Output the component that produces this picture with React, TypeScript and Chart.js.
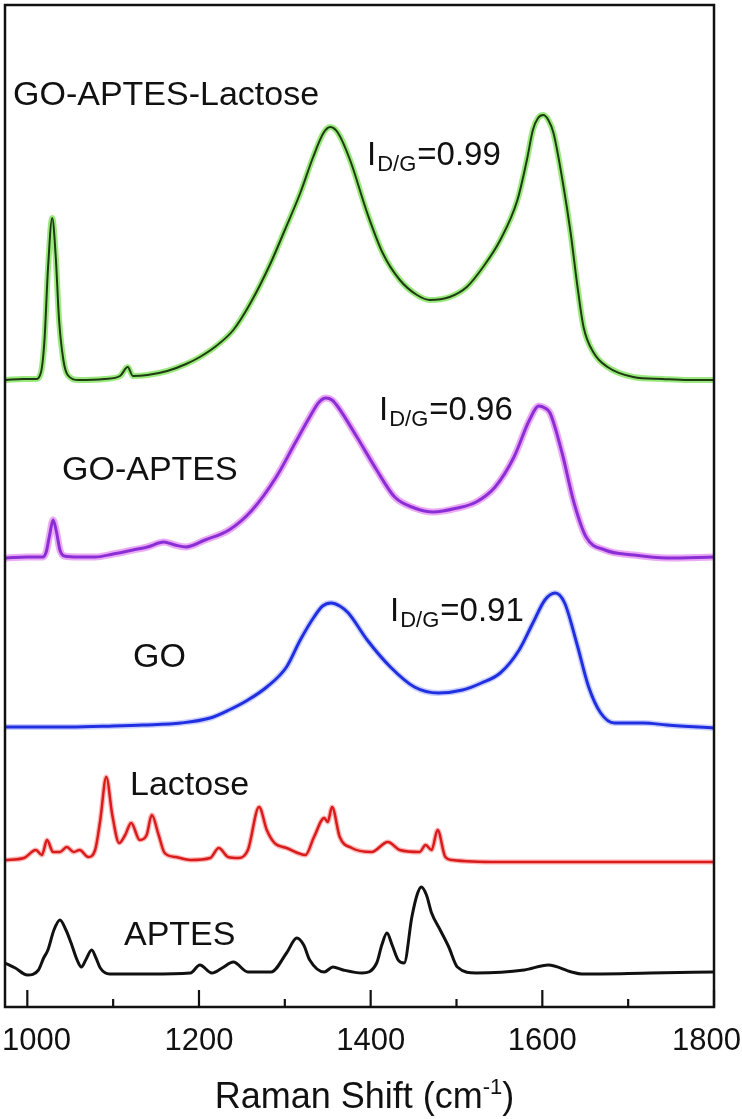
import React, { useEffect, useRef } from "react";
import { Chart, registerables } from "chart.js";

Chart.register(...registerables);

// ---- axis ----
const X_MIN = 974;
const X_MAX = 1800;
const Y_MIN = 0;
const Y_MAX = 1002;
const majorTicks = [1000, 1200, 1400, 1600, 1800];
const minorTicks = [1100, 1300, 1500, 1700];
const axisTitle = "Raman Shift (cm";
const axisTitleSup = "-1";

// ---- labels ----
const seriesNames = ["GO-APTES-Lactose", "GO-APTES", "GO", "Lactose", "APTES"];
const idgValues = ["0.99", "0.96", "0.91"];

// ---- GO-APTES-Lactose (green) ----
const goalX = [975, 995, 1010, 1016, 1020, 1024, 1029, 1033, 1037, 1042, 1047, 1060, 1090, 1108, 1117, 1123, 1140, 1163, 1185, 1201, 1220, 1240, 1260, 1283, 1300, 1318, 1333, 1345, 1353, 1362, 1376, 1396, 1414, 1434, 1454, 1469, 1492, 1512, 1531, 1551, 1571, 1582, 1589, 1595, 1601, 1607, 1613, 1624, 1633, 1641, 1648, 1660, 1676, 1706, 1740, 1770, 1800];
const goalY = [627, 628, 628, 635, 667, 737, 789, 752, 687, 647, 632, 627, 628, 631, 640, 631, 632, 636, 643, 650, 661, 677, 704, 743, 777, 814, 850, 874, 880, 874, 847, 794, 754, 727, 712, 707, 710, 720, 740, 767, 807, 847, 877, 889, 892, 887, 874, 824, 774, 720, 680, 654, 640, 630, 628, 627, 627];

// ---- GO-APTES (purple) ----
const goaX = [975, 1000, 1018, 1022, 1026, 1030, 1034, 1038, 1043, 1060, 1079, 1100, 1123, 1140, 1159, 1172, 1185, 1207, 1235, 1262, 1290, 1312, 1329, 1340, 1348, 1355, 1362, 1384, 1407, 1428, 1451, 1473, 1501, 1523, 1545, 1567, 1585, 1596, 1603, 1609, 1623, 1637, 1651, 1673, 1706, 1745, 1800];
const goaY = [449, 450, 450, 455, 472, 487, 475, 457, 451, 450, 450, 453, 457, 460, 465, 462, 460, 467, 477, 497, 530, 564, 590, 605, 609, 607, 600, 570, 537, 510, 499, 495, 499, 505, 520, 550, 587, 601, 599, 594, 554, 504, 470, 457, 452, 449, 450];

// ---- GO (blue) ----
const goX = [975, 1050, 1100, 1135, 1179, 1213, 1235, 1257, 1279, 1302, 1318, 1334, 1344, 1354, 1364, 1374, 1396, 1423, 1451, 1479, 1507, 1529, 1551, 1573, 1589, 1603, 1615, 1626, 1640, 1654, 1668, 1684, 1718, 1745, 1800];
const goY = [280, 280, 281, 282, 284, 289, 297, 307, 320, 340, 367, 390, 401, 404, 401, 394, 367, 340, 320, 314, 317, 324, 334, 357, 384, 407, 414, 404, 364, 320, 294, 284, 284, 282, 279];

// ---- Lactose (red) ----
const lacX = [974, 996, 1010, 1017, 1023, 1030, 1038, 1046, 1054, 1061, 1071, 1079, 1085, 1092, 1099, 1107, 1114, 1121, 1131, 1139, 1145, 1153, 1160, 1173, 1190, 1213, 1223, 1234, 1246, 1257, 1270, 1279, 1288, 1302, 1324, 1334, 1346, 1350, 1355, 1364, 1378, 1401, 1420, 1434, 1457, 1464, 1471, 1478, 1487, 1495, 1550, 1600, 1650, 1700, 1750, 1800];
const lacY = [147, 149, 157, 152, 167, 155, 155, 160, 155, 157, 150, 157, 187, 230, 192, 164, 172, 184, 167, 172, 192, 172, 154, 150, 147, 149, 159, 150, 149, 157, 200, 177, 164, 159, 152, 170, 189, 185, 200, 170, 159, 155, 165, 157, 155, 162, 157, 177, 150, 147, 145, 145, 145, 145, 145, 145];

// ---- APTES (black) ----
const apX = [974, 986, 1000, 1013, 1019, 1024, 1031, 1038, 1045, 1051, 1058, 1063, 1068, 1075, 1080, 1085, 1096, 1143, 1190, 1201, 1215, 1227, 1240, 1257, 1284, 1302, 1314, 1322, 1329, 1346, 1356, 1368, 1390, 1407, 1413, 1419, 1425, 1432, 1439, 1448, 1454, 1459, 1465, 1471, 1481, 1491, 1501, 1523, 1579, 1607, 1634, 1646, 1726, 1800];
const apY = [44, 39, 32, 37, 49, 57, 77, 87, 77, 64, 47, 40, 47, 57, 49, 39, 33, 33, 34, 42, 34, 39, 45, 35, 35, 54, 69, 62, 47, 35, 40, 37, 34, 44, 62, 74, 62, 47, 44, 90, 112, 120, 112, 94, 77, 60, 40, 34, 37, 42, 35, 33, 34, 35];

const FONT = '"Liberation Sans", Arial, Helvetica, sans-serif';
const f = (size: number) => `${size}px ${FONT}`;

function pts(xs: number[], ys: number[]) {
  return xs.map((x, i) => ({ x, y: ys[i] }));
}

function drawIdg(ctx: CanvasRenderingContext2D, x: number, y: number, value: string) {
  ctx.font = f(33);
  ctx.fillText("I", x, y);
  const w1 = ctx.measureText("I").width;
  ctx.font = f(22);
  ctx.fillText("D/G", x + w1 + 1, y + 6);
  const w2 = ctx.measureText("D/G").width;
  ctx.font = f(33);
  ctx.fillText("=" + value, x + w1 + 1 + w2 + 1, y);
}

const decorPlugin = {
  id: "decor",
  afterDatasetsDraw(chart: any) {
    const { ctx, chartArea: a, scales } = chart;
    const xs = scales.x;
    ctx.save();
    ctx.strokeStyle = "#111";
    ctx.fillStyle = "#111";
    ctx.lineWidth = 2.5;
    ctx.strokeRect(a.left, a.top, a.right - a.left, a.bottom - a.top);

    ctx.lineWidth = 2.2;
    ctx.beginPath();
    for (const v of majorTicks) {
      const px = xs.getPixelForValue(v);
      ctx.moveTo(px, a.bottom);
      ctx.lineTo(px, a.bottom - 17);
    }
    for (const v of minorTicks) {
      const px = xs.getPixelForValue(v);
      ctx.moveTo(px, a.bottom);
      ctx.lineTo(px, a.bottom - 8);
    }
    ctx.stroke();

    ctx.textBaseline = "alphabetic";
    ctx.font = f(31);
    for (const v of majorTicks) {
      const px = xs.getPixelForValue(v);
      const t = String(v);
      const w = ctx.measureText(t).width;
      let lx = px - w / 2;
      lx = Math.max(2, Math.min(lx, chart.width - 1 - w));
      ctx.fillText(t, lx, a.bottom + 43);
    }

    // axis title with superscript
    ctx.font = f(36);
    const tw1 = ctx.measureText(axisTitle).width;
    ctx.font = f(22);
    const tw2 = ctx.measureText(axisTitleSup).width;
    ctx.font = f(36);
    const tw3 = ctx.measureText(")").width;
    const total = tw1 + tw2 + tw3;
    let tx = (a.left + a.right) / 2 + 5 - total / 2;
    const ty = a.bottom + 101;
    ctx.fillText(axisTitle, tx, ty);
    tx += tw1;
    ctx.font = f(22);
    ctx.fillText(axisTitleSup, tx, ty - 14);
    tx += tw2;
    ctx.font = f(36);
    ctx.fillText(")", tx, ty);

    // series labels
    ctx.font = f(34);
    ctx.fillText(seriesNames[0], 13, 105);
    ctx.fillText(seriesNames[1], 62, 480);
    ctx.fillText(seriesNames[2], 133, 667);
    ctx.fillText(seriesNames[3], 130, 795);
    ctx.fillText(seriesNames[4], 124, 945);

    drawIdg(ctx, 367, 165, idgValues[0]);
    drawIdg(ctx, 379, 420, idgValues[1]);
    drawIdg(ctx, 390, 621, idgValues[2]);
    ctx.restore();
  },
};

function line(data: { x: number; y: number }[], color: string, width: number, order: number) {
  return {
    data,
    borderColor: color,
    borderWidth: width,
    pointRadius: 0,
    fill: false,
    cubicInterpolationMode: "monotone" as const,
    order,
  };
}

export default function App() {
  const ref = useRef<HTMLCanvasElement | null>(null);

  useEffect(() => {
    if (!ref.current) return;
    const green = pts(goalX, goalY);
    const purple = pts(goaX, goaY);
    const blue = pts(goX, goY);
    const red = pts(lacX, lacY);
    const black = pts(apX, apY);
    const chart = new Chart(ref.current, {
      type: "line",
      data: {
        datasets: [
          line(green, "rgba(120,225,80,0.75)", 6, 2),
          line(green, "#1e3a12", 2, 1),
          line(purple, "rgba(230,140,240,0.75)", 7, 2),
          line(purple, "#8a2ed6", 3, 1),
          line(blue, "rgba(150,160,255,0.5)", 6, 2),
          line(blue, "#2030e0", 3, 1),
          line(red, "rgba(255,130,130,0.6)", 5, 2),
          line(red, "#d81c1c", 2.5, 1),
          line(black, "#111111", 3, 1),
        ] as any,
      },
      options: {
        animation: false,
        responsive: false,
        maintainAspectRatio: false,
        devicePixelRatio: 1,
        layout: { padding: { left: 5, top: 5, right: 28, bottom: 112 } },
        plugins: { legend: { display: false }, tooltip: { enabled: false } },
        scales: {
          x: { type: "linear", min: X_MIN, max: X_MAX, display: false },
          y: { type: "linear", min: Y_MIN, max: Y_MAX, display: false },
        },
      },
      plugins: [decorPlugin],
    });
    return () => chart.destroy();
  }, []);

  return (
    <div style={{ position: "absolute", left: 0, top: 0, width: 742, height: 1119, background: "#fff" }}>
      <canvas ref={ref} width={742} height={1119} style={{ display: "block" }} />
    </div>
  );
}
